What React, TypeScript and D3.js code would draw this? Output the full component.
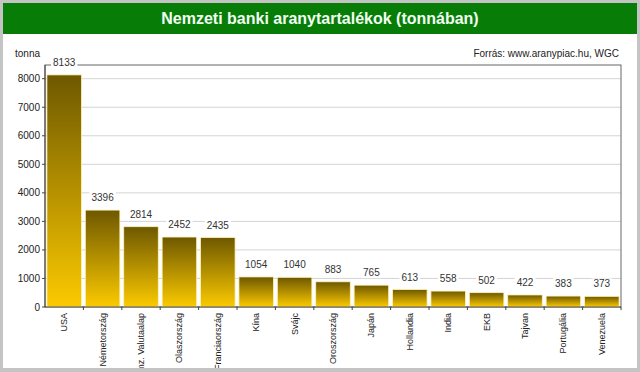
import React from "react";
import * as d3 from "d3";

const categories = [
  "USA", "Németország", "Nemz. Valutaalap", "Olaszország", "Franciaország",
  "Kína", "Svájc", "Oroszország", "Japán", "Hollandia", "India", "EKB",
  "Tajvan", "Portugália", "Venezuela",
];
const values = [8133, 3396, 2814, 2452, 2435, 1054, 1040, 883, 765, 613, 558, 502, 422, 383, 373];
const yTicks = [0, 1000, 2000, 3000, 4000, 5000, 6000, 7000, 8000];

const W = 640, H = 372;
const plot = { left: 45, right: 621, top: 65, bottom: 307 };

export default function App() {
  const x = d3.scaleBand<string>().domain(categories).range([plot.left, plot.right]).paddingInner(0.1).paddingOuter(0.05);
  const y = d3.scaleLinear().domain([0, 8480]).range([plot.bottom, plot.top]);
  const step = x.step();
  const font = "Arial, 'Liberation Sans', sans-serif";
  return (
    <svg width={W} height={H} style={{ position: "absolute", left: 0, top: 0 }} fontFamily={font}>
      <defs>
        <linearGradient id="barGrad" x1="0" y1="0" x2="0" y2="1">
          <stop offset="0" stopColor="#6e5800" />
          <stop offset="1" stopColor="#fcca00" />
        </linearGradient>
        <clipPath id="labclip">
          <rect x={0} y={plot.bottom} width={W} height={H - 4 - plot.bottom} />
        </clipPath>
      </defs>
      <rect x={0} y={0} width={W} height={H} fill="#c4c4c4" />
      <rect x={3} y={3} width={W - 6} height={H - 7} fill="#ffffff" />
      <rect x={3} y={3} width={W - 6} height={31} fill="#077d07" />
      <text x={W / 2} y={24} textAnchor="middle" fontSize={16} fontWeight="bold" fill="#f2fff2">
        Nemzeti banki aranytartalékok (tonnában)
      </text>
      <text x={15} y={57} fontSize={10} fill="#222">tonna</text>
      <text x={619} y={57} fontSize={10} textAnchor="end" fill="#222">Forrás: www.aranypiac.hu, WGC</text>
      {yTicks.filter(t => t > 0).map(t => (
        <line key={t} x1={plot.left} x2={plot.right} y1={y(t)} y2={y(t)} stroke="#d4d4d4" strokeWidth={1} />
      ))}
      <rect x={plot.left} y={plot.top} width={plot.right - plot.left} height={plot.bottom - plot.top} fill="none" stroke="#666" strokeWidth={1} />
      {categories.map((c, i) => (
        <rect key={c} x={x(c)!} y={y(values[i])} width={x.bandwidth()} height={plot.bottom - y(values[i])}
          fill="url(#barGrad)" stroke="#fff3b8" strokeWidth={0.8} />
      ))}
      {categories.map((c, i) => {
        const cx = x(c)! + x.bandwidth() / 2;
        const ty = y(values[i]) - 9;
        const label = String(values[i]);
        const w = label.length * 5.6 + 4;
        return (
          <g key={c}>
            <rect x={cx - w / 2} y={ty - 9} width={w} height={11} fill="#fff" />
            <text x={cx} y={ty} textAnchor="middle" fontSize={10} fill="#333">{label}</text>
          </g>
        );
      })}
      <line x1={plot.left} x2={plot.right} y1={plot.bottom} y2={plot.bottom} stroke="#444" />
      <line x1={plot.left} x2={plot.left} y1={plot.top} y2={plot.bottom} stroke="#444" />
      {yTicks.map(t => (
        <g key={t}>
          <line x1={plot.left - 3} x2={plot.left} y1={y(t)} y2={y(t)} stroke="#444" />
          <text x={plot.left - 5} y={y(t) + 3.5} textAnchor="end" fontSize={10} fill="#222">{t}</text>
        </g>
      ))}
      {categories.map((c, i) => {
        const bx = plot.left + step * (i + 1);
        return <line key={"t" + c} x1={bx} x2={bx} y1={plot.bottom} y2={plot.bottom + 3} stroke="#444" />;
      })}
      <g clipPath="url(#labclip)">
        {categories.map(c => {
          const cx = x(c)! + x.bandwidth() / 2;
          return (
            <text key={"l" + c} transform={`translate(${cx + 3},${plot.bottom + 6}) rotate(-90)`}
              textAnchor="end" fontSize={9} fill="#222">{c}</text>
          );
        })}
      </g>
    </svg>
  );
}
